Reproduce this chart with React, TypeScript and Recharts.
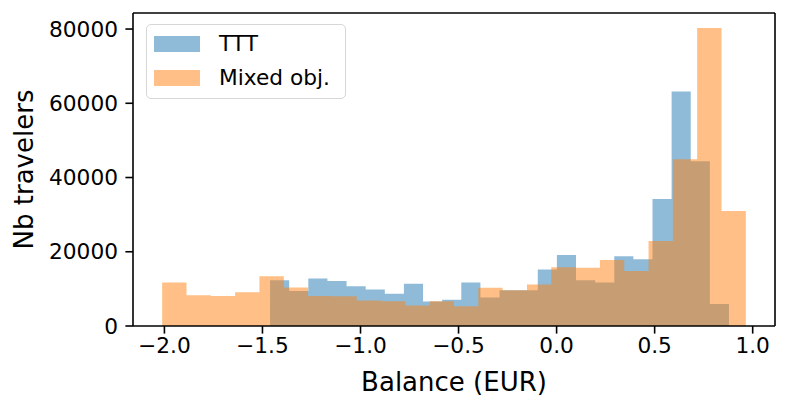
import React from "react";
import { ComposedChart, Area, XAxis, YAxis, Legend, Label, ReferenceLine } from "recharts";

// Histogram counts per bin (24 bins each)
const countsTTT = [12300, 9400, 12800, 12100, 10700, 9800, 8700, 11400, 6600, 7100, 11700, 7700, 9600, 9600, 15200, 19100, 12300, 11700, 18800, 18000, 34200, 63200, 44400, 5900];
const countsMixed = [11700, 8300, 8100, 9100, 13400, 10400, 8100, 8000, 6900, 6700, 5500, 6700, 5300, 10300, 9600, 11200, 15800, 15700, 17800, 14800, 22900, 44900, 80300, 31000];
// Histogram ranges (first and last bin edge)
const rangeTTT = [-1.4612, 0.8791];
const rangeMixed = [-2.0114, 0.965];
// Axis ticks
const xTicks = [-2.0, -1.5, -1.0, -0.5, 0.0, 0.5, 1.0];
const yTicks = [0, 20000, 40000, 60000, 80000];
const xDomain = [-2.1602, 1.1138];
const yDomain = [0, 84320];
const seriesNames = ["TTT", "Mixed obj."];

const FONT = "'DejaVu Sans', sans-serif";
const BLUE = "#1f77b4";
const ORANGE = "#ff7f0e";
const seriesColors = [BLUE, ORANGE];

function binEdges(range: number[], n: number): number[] {
  const w = (range[1] - range[0]) / n;
  const out: number[] = [];
  for (let i = 0; i <= n; i++) out.push(i === n ? range[1] : range[0] + i * w);
  return out;
}

function valueAt(x: number, edges: number[], counts: number[]): number | null {
  const n = counts.length;
  if (x < edges[0] || x > edges[n]) return null;
  if (x === edges[n]) return counts[n - 1];
  for (let i = 0; i < n; i++) {
    if (x >= edges[i] && x < edges[i + 1]) return counts[i];
  }
  return null;
}

const edgesTTT = binEdges(rangeTTT, countsTTT.length);
const edgesMixed = binEdges(rangeMixed, countsMixed.length);
const rows = [...edgesTTT, ...edgesMixed]
  .sort((a, b) => a - b)
  .map((x) => ({
    x,
    ttt: valueAt(x, edgesTTT, countsTTT),
    mixed: valueAt(x, edgesMixed, countsMixed),
  }));

const fmtX = (v: number) => (v < 0 ? "\u2212" : "") + Math.abs(v).toFixed(1);

const renderLegend = () => {
  return (
    <div
      style={{
        width: 200,
        height: 75,
        boxSizing: "border-box",
        border: "1.6px solid #d6d6d6",
        borderRadius: 5,
        background: "rgba(255,255,255,0.8)",
        padding: "2px 0 0 7px",
        fontFamily: FONT,
      }}
    >
      {seriesNames.map((name, i) => (
        <div key={name} style={{ display: "flex", alignItems: "center", height: 34 }}>
          <div style={{ width: 46, height: 16, background: seriesColors[i], opacity: 0.5, marginRight: 19 }} />
          <span style={{ fontSize: 21.7, lineHeight: 1, color: "#000" }}>{name}</span>
        </div>
      ))}
    </div>
  );
};

const YLabel = (props: any) => {
  const vb = props.viewBox || { x: 0, y: 13, width: 133, height: 313 };
  const cx = vb.x + 33;
  const cy = vb.y + vb.height / 2;
  return (
    <text
      x={cx}
      y={cy}
      transform={`rotate(-90, ${cx}, ${cy})`}
      textAnchor="middle"
      fontSize={26}
      fontFamily={FONT}
      fill="#000"
    >
      Nb travelers
    </text>
  );
};

const XLabel = (props: any) => {
  const vb = props.viewBox || { x: 133, y: 326, width: 642, height: 83 };
  return (
    <text
      x={vb.x + vb.width / 2}
      y={vb.y + 65}
      textAnchor="middle"
      fontSize={26}
      fontFamily={FONT}
      fill="#000"
    >
      Balance (EUR)
    </text>
  );
};

export default function App() {
  const tickStyle = { fontSize: 21.7, fill: "#000", fontFamily: FONT };
  const lineStyle = { stroke: "#000", strokeWidth: 1.6 };
  return (
    <div style={{ position: "absolute", left: 0, top: 0, background: "#fff" }}>
      <ComposedChart
        width={789}
        height={409}
        data={rows}
        margin={{ top: 13, right: 14, bottom: 0, left: 0 }}
      >
        <XAxis
          dataKey="x"
          type="number"
          domain={xDomain}
          allowDataOverflow
          ticks={xTicks}
          tickFormatter={fmtX}
          tick={tickStyle}
          tickSize={7.6}
          tickMargin={4}
          axisLine={lineStyle}
          tickLine={lineStyle}
          height={83}
          interval={0}
        >
          <Label content={<XLabel />} />
        </XAxis>
        <YAxis
          type="number"
          domain={yDomain}
          allowDataOverflow
          ticks={yTicks}
          tick={tickStyle}
          tickSize={7.6}
          tickMargin={7.4}
          axisLine={lineStyle}
          tickLine={lineStyle}
          width={133}
          interval={0}
        >
          <Label content={<YLabel />} />
        </YAxis>
        <Area
          dataKey="ttt"
          name={seriesNames[0]}
          type="stepAfter"
          fill={BLUE}
          fillOpacity={0.5}
          stroke="none"
          baseValue={0}
          connectNulls={false}
          isAnimationActive={false}
          dot={false}
          activeDot={false}
        />
        <Area
          dataKey="mixed"
          name={seriesNames[1]}
          type="stepAfter"
          fill={ORANGE}
          fillOpacity={0.5}
          stroke="none"
          baseValue={0}
          connectNulls={false}
          isAnimationActive={false}
          dot={false}
          activeDot={false}
        />
        <ReferenceLine y={yDomain[1]} stroke="#000" strokeWidth={1.6} ifOverflow="visible" />
        <ReferenceLine x={xDomain[1]} stroke="#000" strokeWidth={1.6} ifOverflow="visible" />
        <Legend
          layout="vertical"
          align="center"
          verticalAlign="middle"
          content={renderLegend}
          wrapperStyle={{ left: 146, top: 24, width: 200, height: 75 }}
        />
      </ComposedChart>
    </div>
  );
}
